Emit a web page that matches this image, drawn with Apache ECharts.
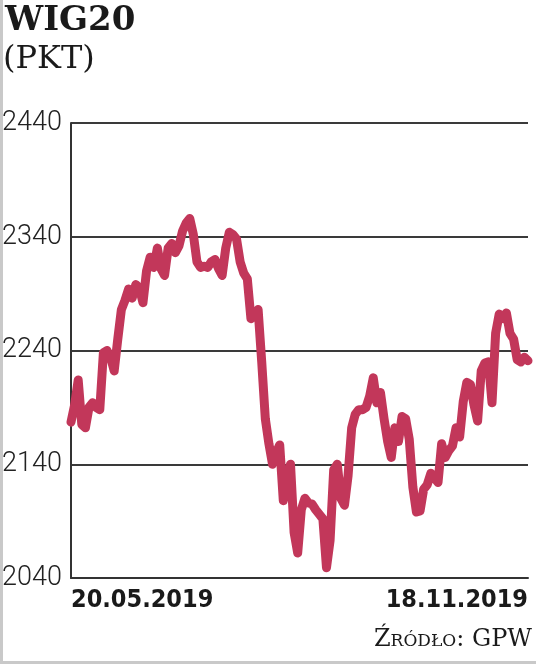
<!DOCTYPE html>
<html>
<head>
<meta charset="utf-8">
<script src="https://cdn.jsdelivr.net/npm/echarts@6/dist/echarts.min.js"></script>
<style>
html,body{margin:0;padding:0;background:#fff;}
#c{width:536px;height:664px;}
</style>
</head>
<body>
<div id="c"></div>
<script>
// WIG20 daily close, 20.05.2019 - 18.11.2019
const values = [
  2177, 2192, 2214, 2175, 2172, 2190, 2194, 2190, 2188, 2238,
  2240, 2234, 2222, 2250, 2276, 2284, 2294, 2286, 2298, 2295,
  2282, 2310, 2322, 2313, 2330, 2312, 2306, 2330, 2334, 2326,
  2332, 2345, 2352, 2356, 2342, 2318, 2313, 2314, 2313, 2318,
  2320, 2312, 2306, 2330, 2344, 2342, 2338, 2318, 2308, 2303,
  2268, 2272, 2276, 2230, 2180, 2158, 2140, 2150, 2157, 2108,
  2125, 2140, 2080, 2062, 2100, 2110, 2106, 2105, 2100, 2096,
  2092, 2049, 2073, 2135, 2140, 2110, 2104, 2130, 2172, 2184,
  2188, 2188, 2190, 2200, 2216, 2194, 2203, 2180, 2160, 2146,
  2172, 2160, 2182, 2180, 2162, 2120, 2098, 2099, 2118, 2122,
  2132, 2128, 2124, 2158, 2146, 2152, 2156, 2172, 2164, 2195,
  2212, 2210, 2192, 2178, 2222, 2229, 2230, 2194, 2255, 2272,
  2268, 2273, 2255, 2250, 2232, 2230, 2234, 2231
];
const categories = values.map((v, i) => String(i));
const xTickLabels = ['20.05.2019', '18.11.2019'];
const yMin = 2040, yMax = 2440, yStep = 100;
const titleText = 'WIG20';
const unitText = '(PKT)';
const sourceText = 'Źródło: GPW';

const chart = echarts.init(document.getElementById('c'), null, {renderer: 'canvas'});
const last = values.length - 1;
chart.setOption({
  animation: false,
  backgroundColor: '#fff',
  grid: {left: 71, right: 8, top: 123, bottom: 86, containLabel: false, outerBoundsMode: 'none'},
  xAxis: {
    type: 'category',
    data: categories,
    boundaryGap: false,
    axisLine: {show: true, lineStyle: {color: '#333', width: 2}},
    axisTick: {show: false},
    axisLabel: {
      show: true,
      interval: (idx) => idx === 0 || idx === last,
      showMinLabel: true, showMaxLabel: true,
      alignMinLabel: 'left', alignMaxLabel: 'right',
      formatter: (v) => (Number(v) === 0 ? xTickLabels[0] : (Number(v) === last ? xTickLabels[1] : '')),
      color: '#1a1a1a',
      fontFamily: 'DejaVu Sans Condensed, DejaVu Sans, sans-serif',
      fontWeight: 'bold',
      fontSize: 25,
      margin: 10,
      verticalAlign: 'top'
    },
    splitLine: {show: false}
  },
  yAxis: {
    type: 'value',
    min: yMin, max: yMax, interval: yStep,
    axisLine: {show: true, lineStyle: {color: '#333', width: 2}},
    axisTick: {show: false},
    axisLabel: {
      color: '#222',
      fontFamily: 'Roboto, sans-serif',
      fontWeight: 300,
      fontSize: 27,
      margin: 9,
      align: 'right',
      formatter: (v) => String(v)
    },
    splitLine: {show: true, lineStyle: {color: '#3a3a3a', width: 2}}
  },
  series: [{
    type: 'line',
    data: values,
    showSymbol: false,
    smooth: false,
    lineStyle: {color: '#c2375a', width: 9, cap: 'round', join: 'round'},
    z: 5
  }],
  graphic: [
    {type: 'text', left: 5, top: 4, style: {text: titleText, fill: '#1a1a1a', font: 'bold 34px "DejaVu Serif", serif'}},
    {type: 'text', left: 3, top: 44, style: {text: unitText, fill: '#1a1a1a', font: '32px "DejaVu Serif", serif'}},
    {type: 'text', right: 4, top: 628, style: {text: sourceText, fill: '#1a1a1a', font: 'small-caps 24px "DejaVu Serif", serif'}},
    {type: 'rect', shape: {x: 0, y: 0, width: 3, height: 664}, style: {fill: '#c9c9c9'}},
    {type: 'rect', shape: {x: 0, y: 661, width: 536, height: 3}, style: {fill: '#c9c9c9'}}
  ]
});
</script>
</body>
</html>
